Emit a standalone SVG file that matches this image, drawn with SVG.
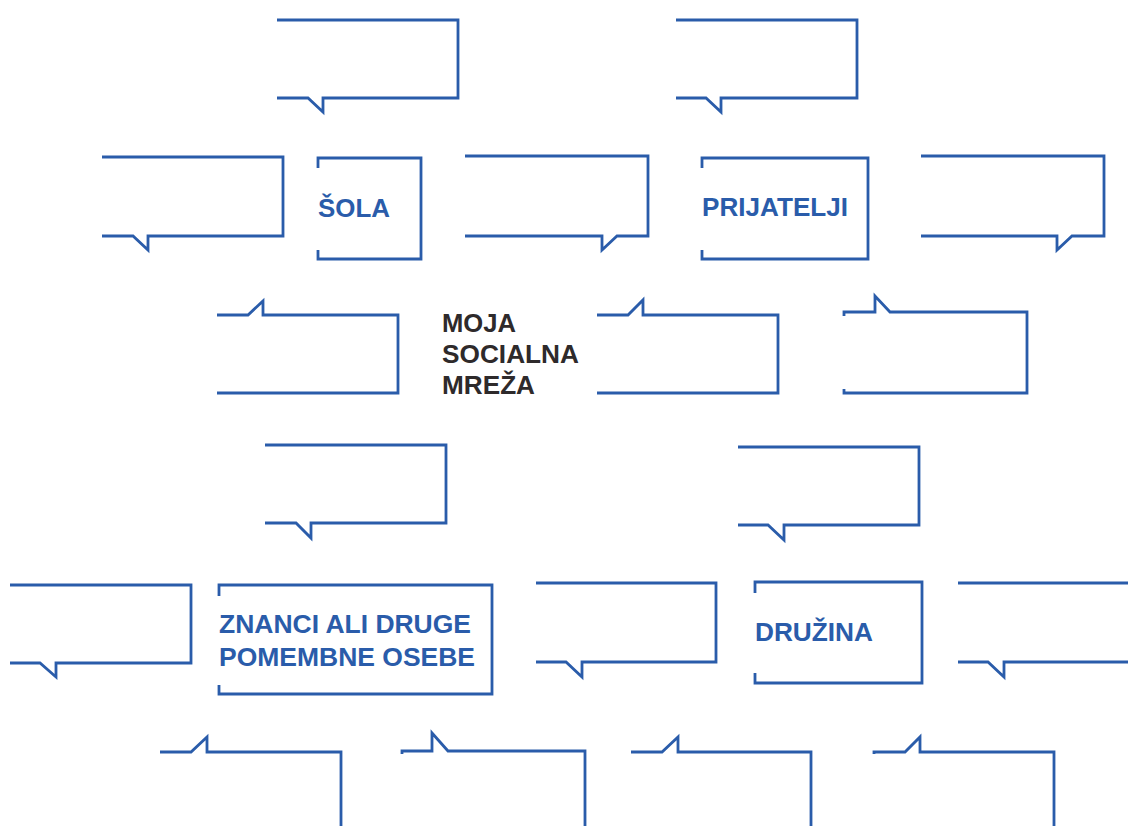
<svg xmlns="http://www.w3.org/2000/svg" width="1128" height="826" viewBox="0 0 1128 826">
<style>
.b{fill:none;stroke:#2a5caa;stroke-width:2.8;stroke-linejoin:miter;stroke-linecap:butt}
.t{font-family:"Liberation Sans",Arial,sans-serif;font-weight:bold;font-size:26px;fill:#2a5caa}
.c{font-family:"Liberation Sans",Arial,sans-serif;font-weight:bold;font-size:26px;fill:#2e2a2b}
</style>
<rect width="1128" height="826" fill="#fff"/>
<g id="bubbles">
<path id="bA" class="b" d="M277,20 H458 V98 H323 V112 L308,98 H277"/>
<path id="bB" class="b" d="M676,20 H857 V98 H721 V112 L706,98 H676"/>
<path id="bC" class="b" d="M102,157 H283 V236 H148 V250 L133,236 H102"/>
<path id="bD" class="b" d="M465,156 H648 V236 H617 L602,250 V236 H465"/>
<path id="bE" class="b" d="M921,156 H1104 V236 H1072 L1057,250 V236 H921"/>
<path id="bF" class="b" d="M217,315 H248 L263,301 V315 H398 V393 H217"/>
<path id="bG" class="b" d="M597,315 H628 L643,300 V315 H778 V393 H597"/>
<path id="bH" class="b" d="M844,316 V312 H875 V296 L890,312 H1027 V393 H844 V389"/>
<path id="bI" class="b" d="M265,445 H446 V523 H311 V538 L296,523 H265"/>
<path id="bJ" class="b" d="M738,447 H919 V525 H784 V540 L768,525 H738"/>
<path id="bK" class="b" d="M10,585 H191 V663 H56 V677 L40,663 H10"/>
<path id="bL" class="b" d="M536,583 H716 V662 H582 V677 L566,662 H536"/>
<path id="bM" class="b" d="M958,583 H1130 M1130,662 H1004 V677 L988,662 H958"/>
<path id="bN" class="b" d="M160,752 H191 L207,737 V752 H341 V830"/>
<path id="bO" class="b" d="M402,754 V751 H432 V733 L448,751 H585 V830"/>
<path id="bP" class="b" d="M631,752 H662 L678,737 V752 H811 V830"/>
<path id="bQ" class="b" d="M874,754 V752 H905 L920,737 V752 H1054 V830"/>
</g>
<g id="sola">
<path class="b" d="M318,168 V158 H421 V259 H318 V250"/>
<text class="t" x="318" y="217" textLength="72" lengthAdjust="spacingAndGlyphs">ŠOLA</text>
</g>
<g id="prijatelji">
<path class="b" d="M702,168 V158 H868 V259 H702 V250"/>
<text class="t" x="702" y="216" textLength="146" lengthAdjust="spacingAndGlyphs">PRIJATELJI</text>
</g>
<g id="center">
<text class="c" x="442" y="332" textLength="74" lengthAdjust="spacingAndGlyphs">MOJA</text>
<text class="c" x="442" y="363" textLength="137" lengthAdjust="spacingAndGlyphs">SOCIALNA</text>
<text class="c" x="442" y="394" textLength="93" lengthAdjust="spacingAndGlyphs">MREŽA</text>
</g>
<g id="znanci">
<path class="b" d="M219,596 V585 H492 V694 H219 V685"/>
<text class="t" x="219" y="633" textLength="252" lengthAdjust="spacingAndGlyphs">ZNANCI ALI DRUGE</text>
<text class="t" x="219" y="666" textLength="256" lengthAdjust="spacingAndGlyphs">POMEMBNE OSEBE</text>
</g>
<g id="druzina">
<path class="b" d="M755,593 V582 H922 V683 H755 V673"/>
<text class="t" x="755" y="641" textLength="118" lengthAdjust="spacingAndGlyphs">DRUŽINA</text>
</g>
</svg>
